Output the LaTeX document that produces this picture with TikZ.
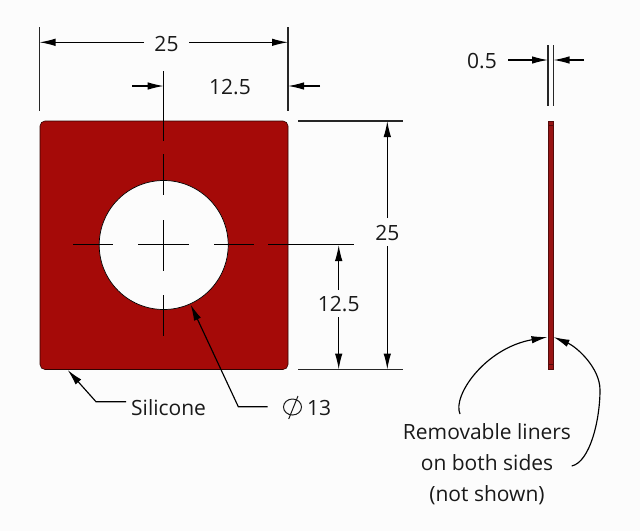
\documentclass[tikz,border=0pt]{standalone}
\usepackage{fontspec}
\setmainfont{Open Sans}
\usetikzlibrary{arrows.meta}
\definecolor{bgc}{HTML}{FCFCFC}
\definecolor{plate}{HTML}{A50A08}
\definecolor{barc}{HTML}{981414}
\tikzset{
  x=1pt,y=-1pt,
  lab/.style={font=\fontsize{21}{25}\selectfont,text=black!90,inner sep=0pt},
  dimline/.style={line width=1.15pt,black},
  tipped/.style={dimline,-{Latex[length=16pt,width=7.5pt]}},
  extline/.style={line width=1.15pt,black!85},
  centerline/.style={line width=1pt,black},
}
\begin{document}
\begin{tikzpicture}
\useasboundingbox[fill=bgc] (0,0) rectangle (640,531);
% plate
\draw[fill=plate,draw=black!70!plate,line width=0.6pt,rounded corners=5pt]
  (40,121) rectangle (288,369.5);
\fill[bgc] (163.7,245) circle[radius=64.5];
\draw[black,line width=0.7pt] (163.7,245) circle[radius=64.5];
% side bar
\draw[fill=barc,draw=black!45!barc,line width=0.7pt] (548,121) rectangle (553.3,369.5);
\draw[black!45!barc,line width=0.5pt] (548,125) -- (553.3,125) (548,364.5) -- (553.3,364.5);
% named coordinates
\coordinate (TLa) at (39.5,27); \coordinate (TLb) at (39.5,111);
\coordinate (TRa) at (288,27); \coordinate (TRb) at (288,111);
\node[lab] (w25) at (166.5,44) {25};
\coordinate (wL) at (144,42.3); \coordinate (wLt) at (39.5,42.3);
\coordinate (wR) at (189,42.3); \coordinate (wRt) at (288,42.3);
\draw[extline] (TLa)--(TLb);
\draw[extline] (TRa)--(TRb);
\draw[tipped] (wL)--(wLt);
\draw[tipped] (wR)--(wRt);
% half width
\node[lab] (w125) at (230,87.5) {12.5};
\coordinate (hA) at (132,86); \coordinate (hAt) at (163.7,86);
\coordinate (hB) at (320,86); \coordinate (hBt) at (288,86);
\draw[tipped] (hA)--(hAt);
\draw[tipped] (hB)--(hBt);
% centre lines
\draw[centerline] (163.7,71)--(163.7,141) (163.7,154)--(163.7,195)
  (163.7,220)--(163.7,271) (163.7,295)--(163.7,336);
\draw[centerline] (73,244.7)--(113,244.7) (138,244.7)--(189,244.7)
  (214,244.7)--(254,244.7) (268,244.7)--(354,244.7);
% right dims
\draw[extline] (298,121)--(403,121);
\draw[extline] (298,369.5)--(403,369.5);
\node[lab] (h25) at (387.3,233) {25};
\coordinate (vA) at (387.3,218); \coordinate (vAt) at (387.3,121);
\coordinate (vB) at (387.3,246); \coordinate (vBt) at (387.3,369.5);
\draw[tipped] (vA)--(vAt);
\draw[tipped] (vB)--(vBt);
\node[lab] (h125) at (338.7,304) {12.5};
\coordinate (uA) at (338.7,290); \coordinate (uAt) at (338.7,245);
\coordinate (uB) at (338.7,317); \coordinate (uBt) at (338.7,369.5);
\draw[tipped] (uA)--(uAt);
\draw[tipped] (uB)--(uBt);
% leaders
\node[lab,anchor=west] (sil) at (131,407.5) {Silicone};
\coordinate (sA) at (126,401.7); \coordinate (sK) at (96,401.7); \coordinate (sT) at (67.7,370);
\draw[tipped] (sA)--(sK)--(sT);
\node[lab,anchor=west] (d13) at (307,408) {13};
\coordinate (pA) at (267.7,406.7); \coordinate (pK) at (238.3,406.7); \coordinate (pT) at (190.7,304.7);
\draw[tipped] (pA)--(pK)--(pT);
\draw[line width=1pt,black!90] (292.5,407) ellipse[x radius=9,y radius=8];
\draw[line width=1pt,black!90] (288.7,419)--(298,396);
% side dims
\draw[extline] (548,45)--(548,106);
\draw[extline] (553.5,45)--(553.5,106);
\node[lab] (t05) at (482,61.5) {0.5};
\coordinate (zA) at (508,60); \coordinate (zAt) at (548,60);
\coordinate (zB) at (584,60); \coordinate (zBt) at (553.5,60);
\draw[tipped] (zA)--(zAt);
\draw[tipped] (zB)--(zBt);
% liners note
\node[lab,align=center,font=\fontsize{21}{31}\selectfont] (note) at (487,464) {Removable liners\\on both sides\\(not shown)};
\coordinate (nL) at (460,414); \coordinate (nLt) at (547.5,337);
\coordinate (nR) at (571.7,466); \coordinate (nRt) at (553.5,337);
\draw[tipped] (nL) .. controls (452,396) and (485,348) .. (nLt);
\draw[tipped] (nR) .. controls (590,462) and (600,420) .. (600,390) .. controls (600,368) and (577,347) .. (nRt);
\end{tikzpicture}
\end{document}
